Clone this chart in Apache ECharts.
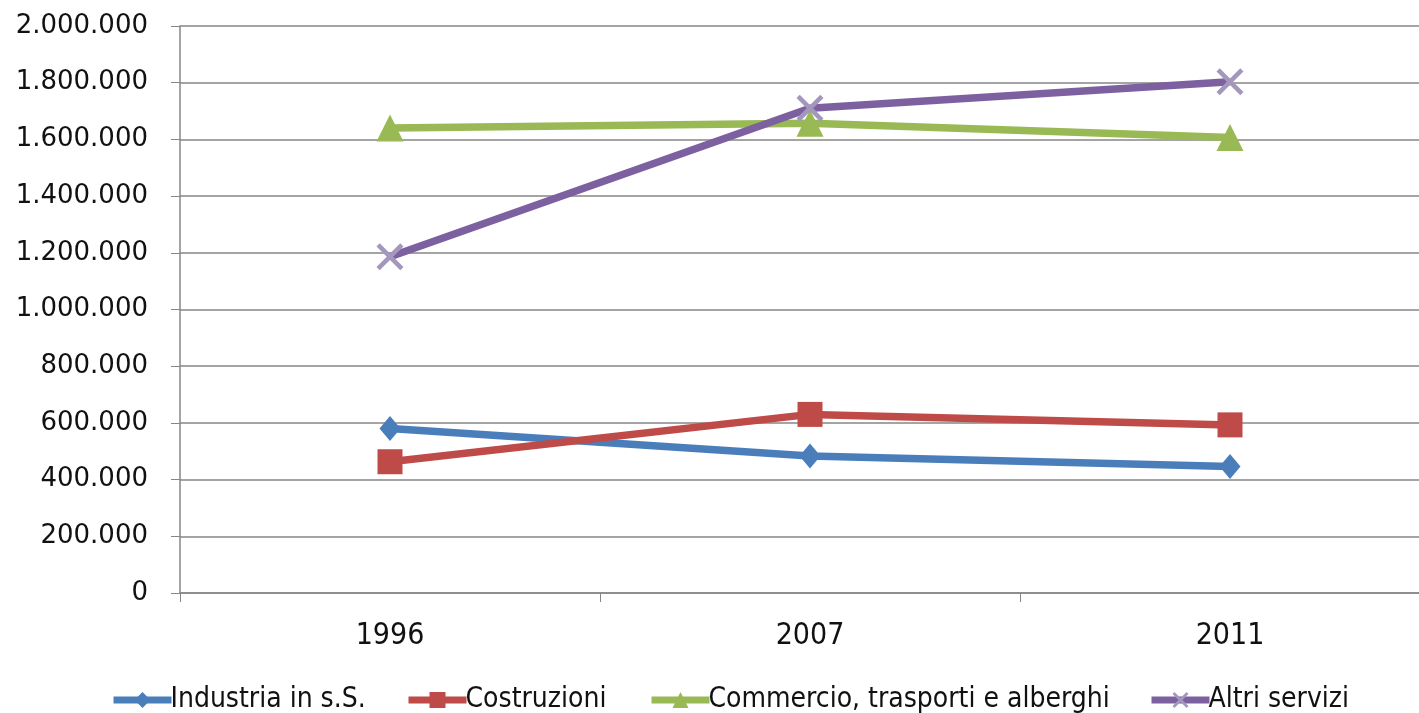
<!DOCTYPE html>
<html><head><meta charset="utf-8">
<script src="https://cdn.jsdelivr.net/npm/echarts@6/dist/echarts.min.js"></script>
<style>html,body{margin:0;padding:0;background:#fff;overflow:hidden;width:1419px;height:713px}#c{width:1440px;height:713px}</style>
</head><body><div id="c"></div>
<script>
const categories = ['1996', '2007', '2011'];
const seriesNames = ['Industria in s.S.', 'Costruzioni', 'Commercio, trasporti e alberghi', 'Altri servizi'];
const industria = [580000, 483000, 446000];
const costruzioni = [463000, 630000, 593000];
const commercio = [1640000, 1657000, 1607000];
const altri = [1186000, 1710000, 1803000];
const yTicks = [0, 200000, 400000, 600000, 800000, 1000000, 1200000, 1400000, 1600000, 1800000, 2000000];

const colors = ['#4a7ebb', '#be4b48', '#98b954', '#7d60a0'];
const xPath = 'path://M0,1.2L1.2,0L10,8.8L8.8,10Z M8.8,0L10,1.2L1.2,10L0,8.8Z';
const fmt = v => String(v).replace(/\B(?=(\d{3})+(?!\d))/g, '.');
const narrow = 'Liberation Sans Narrow, DejaVu Sans Condensed, sans-serif';

const chart = echarts.init(document.getElementById('c'));
const mk = (name, data, color, symbol, size, symColor) => ({
  name, type: 'line', data, symbol, symbolSize: size,
  lineStyle: { color, width: 7.5 },
  itemStyle: { color: symColor || color },
  emphasis: { disabled: true },
  animation: false
});
const legendLefts = [105, 400, 643, 1143];
chart.setOption({
  animation: false,
  grid: { left: 180, top: 26, bottom: 120, right: 0, containLabel: false },
  xAxis: {
    type: 'category', data: categories, boundaryGap: true,
    axisLine: { lineStyle: { color: '#868686', width: 1.5 } },
    axisTick: { show: true, length: 9, lineStyle: { color: '#868686' } },
    axisLabel: { margin: 28, fontSize: 30, color: '#111', fontFamily: narrow },
    splitLine: { show: false }
  },
  yAxis: {
    type: 'value', min: 0, max: 2000000, interval: 200000,
    axisLine: { show: true, lineStyle: { color: '#868686', width: 1.5 } },
    axisTick: { show: true, length: 9, lineStyle: { color: '#868686' } },
    axisLabel: { margin: 32, fontSize: 26, color: '#111', fontFamily: 'DejaVu Sans, sans-serif', formatter: v => fmt(v) },
    splitLine: { lineStyle: { color: '#868686', width: 1.5 } }
  },
  legend: seriesNames.map((n, i) => ({
    data: [n], top: 681, left: legendLefts[i], itemWidth: 58, itemHeight: 20, itemGap: 0,
    lineStyle: { width: 7 },
    textStyle: { fontSize: 28, color: '#111', fontFamily: narrow, padding: [0, 0, 0, -6] }
  })),
  series: [
    mk(seriesNames[0], industria, colors[0], 'diamond', [21, 25]),
    mk(seriesNames[1], costruzioni, colors[1], 'rect', 25),
    mk(seriesNames[2], commercio, colors[2], 'triangle', 27),
    mk(seriesNames[3], altri, colors[3], xPath, 27, '#a497bd')
  ]
});
</script></body></html>
